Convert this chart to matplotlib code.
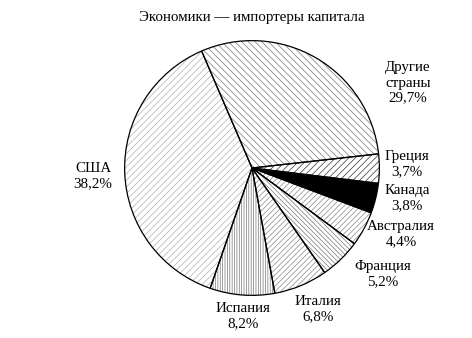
import matplotlib
matplotlib.use("Agg")
import matplotlib.pyplot as plt

plt.rcParams['font.family'] = ['Liberation Serif', 'DejaVu Serif']
plt.rcParams['hatch.linewidth'] = 0.5

# data, clockwise from the top-left boundary
countries = ['Другие\nстраны', 'Греция', 'Канада', 'Австралия', 'Франция',
             'Италия', 'Испания', 'США']
shares = [29.7, 3.7, 3.8, 4.4, 5.2, 6.8, 8.2, 38.2]
pct_labels = ['29,7%', '3,7%', '3,8%', '4,4%', '5,2%', '6,8%', '8,2%', '38,2%']

hatches = ['\\\\\\\\\\', '/////', '', '//////', '\\\\\\\\\\\\\\', '//////',
           '|||||||', '/////']
hatch_colors = ['#777777', '#333333', 'black', '#888888', '#777777',
                '#888888', '#777777', '#b0b0b0']
face_colors = ['white', 'white', 'black', 'white', 'white', 'white', 'white', 'white']

# label centres in pixels (x, y from top)
label_pos = [(408, 83), (407, 164), (407, 198), (401, 234), (383, 274),
             (318, 309), (243, 316), (93, 176)]

W, H = 472, 338
fig = plt.figure(figsize=(W / 100, H / 100), dpi=100)
ax = fig.add_axes([124 / W, 42 / H, 256 / W, 256 / H])

wedges, _ = ax.pie(shares, startangle=113.3, counterclock=False,
                   colors=face_colors, wedgeprops=dict(linewidth=0))
for w, h, c in zip(wedges, hatches, hatch_colors):
    w.set_hatch(h)
    w.set_edgecolor(c)

# outlines on top
ax.pie(shares, startangle=113.3, counterclock=False,
       wedgeprops=dict(fill=False, edgecolor='black', linewidth=0.9))
ax.set_xlim(-1.005, 1.005)
ax.set_ylim(-1.005, 1.005)
ax.set_aspect('equal')
ax.axis('off')

for name, pct, (x, y) in zip(countries, pct_labels, label_pos):
    fig.text(x / W, 1 - y / H, name + '\n' + pct, ha='center', va='center',
             multialignment='center', fontsize=10.8, linespacing=1.2)

fig.text(252 / W, 1 - 17 / H, 'Экономики — импортеры капитала',
         ha='center', va='center', fontsize=10.8)

fig.savefig('out.png', dpi=100)
